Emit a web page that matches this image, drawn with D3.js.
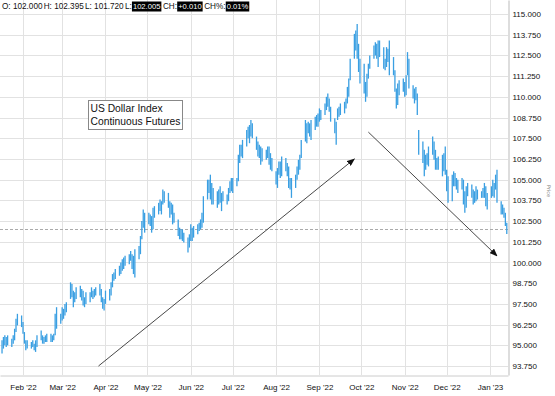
<!DOCTYPE html>
<html>
<head>
<meta charset="utf-8">
<script src="https://cdn.jsdelivr.net/npm/d3@7"></script>
<style>
  body { margin: 0; background: #fff; }
  svg { display: block; }
</style>
</head>
<body>
<div id="chart"></div>
<script>
// daily bars, one row per week (Mon..Fri), starting Mon 17 Jan 2022
var firstDay = "2022-01-17";
var highs = [
  95.3, 95.5, 95.6, 95.5, 95.6,
  95.4, 95.6, 96.0, 96.6, 96.9,
  96.8, 96.4, 95.8, 95.3, 95.3,
  95.2, 95.3, 95.1, 95.3, 95.6,
  95.9, 95.6, 95.5, 95.6, 95.7,
  95.7, 95.6, 95.7, 96.9, 97.3,
  96.9, 97.3, 97.2, 97.5, 97.6,
  98.8, 98.7, 98.3, 98.2, 98.5,
  98.6, 98.4, 98.3, 97.9, 98.2,
  98.2, 98.5, 98.3, 98.4, 98.5,
  98.7, 98.4, 97.9, 97.8, 98.3,
  98.4, 98.8, 99.3, 99.4, 99.6,
  99.8, 100.0, 100.2, 100.3, 100.4,
  100.5, 100.7, 100.5, 100.4, 100.8,
  101.0, 101.6, 102.5, 103.2, 103.0,
  103.0, 102.9, 102.8, 103.3, 103.4,
  103.6, 103.8, 103.7, 104.4, 104.3,
  104.2, 103.7, 103.6, 103.5, 103.0,
  102.6, 102.1, 102.0, 102.0, 101.8,
  101.5, 101.7, 102.3, 102.1, 102.2,
  102.3, 102.4, 102.6, 103.0, 104.0,
  105.0, 105.0, 105.3, 104.8, 104.5,
  104.3, 104.4, 104.6, 104.2, 104.3,
  104.1, 104.5, 104.9, 105.1, 105.1,
  105.1, 106.5, 107.1, 107.1, 107.4,
  108.0, 108.2, 108.3, 108.6, 108.4,
  107.6, 107.3, 107.1, 107.0, 106.9,
  106.8, 107.0, 107.0, 106.6, 106.3,
  105.5, 105.7, 106.1, 106.1, 106.4,
  106.3, 106.0, 105.8, 105.1, 105.1,
  105.3, 105.8, 106.2, 106.5, 107.4,
  108.6, 108.4, 108.5, 108.4, 108.6,
  108.8, 108.9, 109.0, 109.3, 109.2,
  109.6, 110.0, 110.2, 109.9, 109.4,
  108.7, 108.5, 109.3, 109.4, 109.6,
  109.7, 109.9, 110.6, 111.1, 112.3,
  113.8, 114.0, 114.4, 113.2, 112.3,
  112.0, 110.9, 111.4, 112.0, 112.5,
  113.1, 113.3, 113.2, 113.4, 113.4,
  113.0, 112.3, 113.0, 112.9, 113.4,
  112.4, 111.6, 110.5, 110.8, 111.0,
  111.1, 110.9, 111.3, 112.7, 112.3,
  110.7, 110.5, 110.6, 110.2, 108.0,
  107.3, 106.8, 106.5, 106.6, 107.0,
  107.6, 107.3, 106.8, 106.3, 106.4,
  106.5, 106.6, 107.0, 105.6, 105.2,
  105.3, 105.5, 105.4, 105.1, 105.0,
  105.1, 105.0, 104.3, 104.6, 104.8,
  104.7, 104.4, 104.3, 104.6, 104.4,
  104.3, 104.5, 104.8, 104.6, 104.2,
  104.6, 105.0, 104.8, 105.3, 105.6,
  103.7, 103.5, 103.3, 103.0, 102.395
];
var lows = [
  94.5, 94.8, 95.0, 94.9, 95.0,
  94.9, 95.1, 95.3, 95.8, 96.2,
  96.1, 95.7, 95.1, 94.7, 94.8,
  94.8, 94.9, 94.7, 94.6, 94.9,
  95.3, 95.1, 95.1, 95.2, 95.2,
  95.2, 95.2, 95.3, 95.6, 96.0,
  96.3, 96.5, 96.6, 96.8, 97.0,
  97.8, 97.9, 97.3, 97.6, 97.8,
  97.9, 97.7, 97.4, 97.3, 97.5,
  97.6, 97.9, 97.8, 97.9, 98.0,
  98.0, 97.6, 97.2, 97.1, 97.5,
  97.7, 98.0, 98.5, 98.9, 99.0,
  99.2, 99.3, 99.5, 99.6, 99.8,
  99.9, 100.1, 99.6, 99.3, 99.1,
  100.2, 100.5, 101.4, 102.1, 101.8,
  102.3, 102.2, 101.8, 102.0, 102.7,
  102.9, 103.1, 102.9, 103.5, 103.6,
  103.3, 102.7, 102.9, 102.3, 102.4,
  101.6, 101.4, 101.4, 101.3, 101.2,
  100.6, 100.9, 101.3, 101.3, 101.5,
  101.7, 101.9, 102.0, 102.1, 102.4,
  103.8, 104.2, 103.8, 103.5, 103.5,
  103.3, 103.5, 103.6, 103.1, 103.7,
  103.5, 103.7, 104.2, 104.3, 104.2,
  104.6, 104.9, 106.0, 106.4, 106.3,
  107.0, 107.5, 107.2, 107.6, 107.5,
  106.8, 106.4, 106.3, 105.9, 106.1,
  106.2, 106.3, 105.9, 105.6, 105.5,
  104.7, 104.5, 105.3, 105.1, 105.2,
  105.5, 105.2, 104.5, 104.4, 103.9,
  104.5, 105.0, 105.3, 105.6, 106.3,
  107.3, 107.2, 107.8, 107.6, 107.4,
  108.0, 108.2, 108.2, 108.5, 108.6,
  108.9, 109.2, 109.4, 109.1, 108.5,
  107.8, 107.1, 108.6, 108.8, 108.9,
  109.0, 109.3, 109.6, 110.0, 111.0,
  112.3, 112.8, 112.3, 111.5, 110.8,
  110.2, 109.7, 110.0, 111.1, 111.7,
  112.3, 112.5, 112.3, 111.8, 112.4,
  111.7, 111.6, 111.8, 112.1, 111.3,
  111.3, 110.3, 109.3, 109.5, 110.1,
  110.3, 110.0, 110.1, 111.3, 110.5,
  109.9, 109.6, 109.8, 108.9, 106.5,
  106.0, 105.2, 105.6, 105.9, 105.8,
  106.5, 106.2, 105.6, 105.6, 105.6,
  105.2, 105.5, 105.3, 104.3, 103.6,
  103.7, 104.6, 104.6, 104.4, 104.2,
  104.4, 103.5, 103.0, 103.3, 104.0,
  103.9, 103.5, 103.6, 103.7, 103.8,
  103.9, 103.9, 103.9, 103.4, 103.2,
  103.9, 104.0, 103.9, 104.4, 103.6,
  102.9, 102.9, 102.7, 102.2, 101.72
];
var priceTicks = [93.75, 95, 96.25, 97.5, 98.75, 100, 101.25, 102.5, 103.75,
                  105, 106.25, 107.5, 108.75, 110, 111.25, 112.5, 113.75, 115];
var monthTicks = ["2022-02-01", "2022-03-01", "2022-04-01", "2022-05-01", "2022-06-01",
                  "2022-07-01", "2022-08-01", "2022-09-01", "2022-10-01", "2022-11-01",
                  "2022-12-01", "2023-01-01"];
var lastPrice = 102.005;
var headerItems = [
  ["O: 102.000", false], ["H: 102.395", false], ["L: 101.720", false],
  ["L:", false], ["102.005", true], ["CH:", false], ["+0.010", true],
  ["CH%:", false], ["0.01%", true]
];
var noteLines = ["US Dollar Index", "Continuous Futures"];
// trend arrows drawn on the chart: [date, price] -> [date, price]
var arrowFrom = [["2022-03-27", 93.75], ["2022-10-06", 107.87]];
var arrowTo   = [["2022-09-26", 106.25], ["2023-01-06", 100.4]];

var width = 555, height = 396;
var plotW = 508, plotH = 375;
var parse = d3.timeParse("%Y-%m-%d");

// build trading days (Mon-Fri)
var bars = [];
var day = parse(firstDay);
for (var i = 0; i < highs.length; i++) {
  while (day.getDay() === 0 || day.getDay() === 6) day = d3.timeDay.offset(day, 1);
  bars.push({date: day, high: highs[i], low: lows[i]});
  day = d3.timeDay.offset(day, 1);
}

var x0 = d3.scaleTime()
    .domain([parse("2022-02-01"), parse("2023-01-01")])
    .range([23, 490]);
var x = d3.scaleTime()
    .domain([x0.invert(0), x0.invert(plotW)])
    .range([0, plotW]);

var y0 = d3.scaleLinear().domain([93.75, 115]).range([366, 14]);
var y = d3.scaleLinear()
    .domain([y0.invert(plotH), y0.invert(0)])
    .range([plotH, 0]);

var svg = d3.select("#chart").append("svg")
    .attr("width", width)
    .attr("height", height)
    .style("font-family", "'DejaVu Sans', sans-serif");

svg.append("defs").append("marker")
    .attr("id", "arrow")
    .attr("viewBox", "0 0 10 8")
    .attr("refX", 9).attr("refY", 4)
    .attr("markerWidth", 8).attr("markerHeight", 6.5)
    .attr("markerUnits", "userSpaceOnUse")
    .attr("orient", "auto")
  .append("path")
    .attr("d", "M0,0 L10,4 L0,8 Z")
    .attr("fill", "#111");

// grid
svg.append("g").selectAll("line")
    .data(priceTicks)
  .enter().append("line")
    .attr("x1", 0).attr("x2", plotW)
    .attr("y1", function(d) { return Math.round(y(d)) + 0.5; })
    .attr("y2", function(d) { return Math.round(y(d)) + 0.5; })
    .attr("stroke", "#e2e2e2");

svg.append("g").selectAll("line")
    .data(monthTicks)
  .enter().append("line")
    .attr("x1", function(d) { return Math.round(x(parse(d))) + 0.5; })
    .attr("x2", function(d) { return Math.round(x(parse(d))) + 0.5; })
    .attr("y1", 0).attr("y2", plotH)
    .attr("stroke", "#e2e2e2");

// axes
var yAxis = d3.axisRight(y)
    .tickValues(priceTicks)
    .tickFormat(d3.format(".3f"))
    .tickSize(0)
    .tickPadding(4);

var gy = svg.append("g")
    .attr("transform", "translate(" + (plotW + 0.5) + ",0)")
    .call(yAxis);
gy.select(".domain").attr("stroke", "#bbb");
gy.selectAll("text").style("font-size", "8px").attr("fill", "#111");

var xAxis = d3.axisBottom(x)
    .tickValues(monthTicks.map(parse))
    .tickFormat(d3.timeFormat("%b '%y"))
    .tickSize(0)
    .tickPadding(9);

var gx = svg.append("g")
    .attr("transform", "translate(0," + (plotH + 0.5) + ")")
    .call(xAxis);
gx.select(".domain").attr("stroke", "#ccc");
gx.selectAll("text").style("font-size", "8px").attr("fill", "#111");

// last price dashed line
svg.append("line")
    .attr("x1", 0).attr("x2", plotW)
    .attr("y1", Math.round(y(lastPrice)) + 0.5)
    .attr("y2", Math.round(y(lastPrice)) + 0.5)
    .attr("stroke", "#aaa")
    .attr("stroke-dasharray", "3,2");

// price bars
svg.append("g").selectAll("line")
    .data(bars)
  .enter().append("line")
    .attr("x1", function(d) { return x(d.date); })
    .attr("x2", function(d) { return x(d.date); })
    .attr("y1", function(d) { return y(d.high); })
    .attr("y2", function(d) { return y(d.low); })
    .attr("stroke", "#3a9fe2")
    .attr("stroke-width", 1.3);

// arrows
arrowFrom.forEach(function(a, i) {
  var b = arrowTo[i];
  svg.append("line")
      .attr("x1", x(parse(a[0]))).attr("y1", y(a[1]))
      .attr("x2", x(parse(b[0]))).attr("y2", y(b[1]))
      .attr("stroke", "#333")
      .attr("stroke-width", 0.9)
      .attr("marker-end", "url(#arrow)");
});

// note box
var note = svg.append("g").attr("transform", "translate(88.5,100.5)");
note.append("rect")
    .attr("width", 94).attr("height", 29)
    .attr("fill", "#fff")
    .attr("stroke", "#888");
note.selectAll("text")
    .data(noteLines)
  .enter().append("text")
    .attr("x", 2)
    .attr("y", function(d, i) { return 11 + i * 13; })
    .style("font-family", "'Liberation Sans', Arial, sans-serif")
    .style("font-size", "10.3px")
    .attr("fill", "#111")
    .text(function(d) { return d; });

// header
var hx = 2;
headerItems.forEach(function(h) {
  var t = svg.append("text")
      .attr("x", hx).attr("y", 9)
      .style("font-family", "'Liberation Sans', Arial, sans-serif")
      .style("font-size", h[1] ? "7.6px" : "8.2px")
      .attr("fill", h[1] ? "#fff" : "#111")
      .text(h[0]);
  var w = t.node().getComputedTextLength();
  if (h[1]) {
    svg.insert("rect", function() { return t.node(); })
        .attr("x", hx - 1).attr("y", 1.5)
        .attr("width", w + 2).attr("height", 10)
        .attr("fill", "#000");
  }
  hx += w + (h[1] ? 2.5 : 1.2);
});

// axis title
svg.append("text")
    .attr("transform", "translate(547,185) rotate(90)")
    .style("font-size", "5px")
    .attr("fill", "#777")
    .text("Price");
</script>
</body>
</html>
